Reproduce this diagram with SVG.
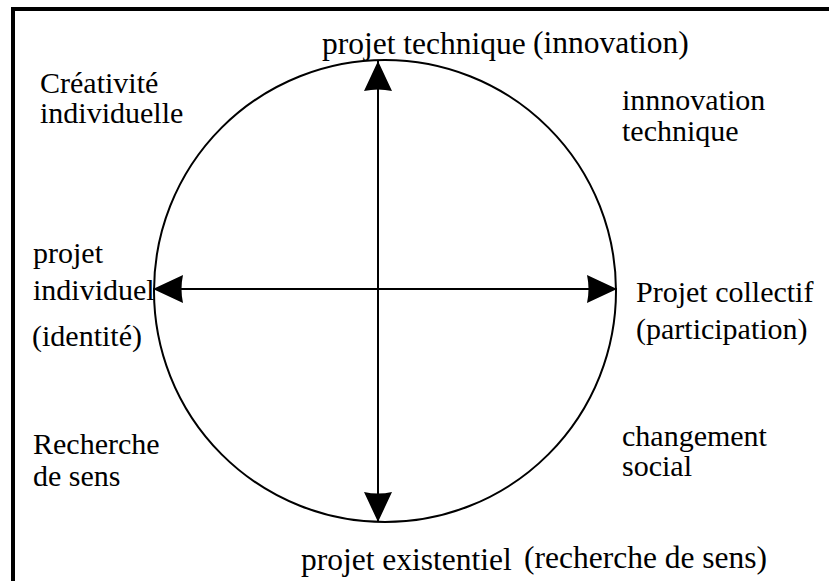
<svg xmlns="http://www.w3.org/2000/svg" width="829" height="581" viewBox="0 0 829 581">
<style>
.t{font-family:'Liberation Serif','Times New Roman',serif;font-size:30px;fill:#000}
.big{font-size:31.5px}
.ln{stroke:#000;stroke-width:2;fill:none}
</style>
<defs>
<marker id="ah" viewBox="0 0 30 28" refX="30" refY="14" markerWidth="30" markerHeight="28" markerUnits="userSpaceOnUse" orient="auto">
<path d="M0,0 L30,14 L0,28 Q3,14 0,0 Z" fill="#000"/>
</marker>
</defs>
<rect width="829" height="581" fill="#fff"/>
<path d="M13,581 V9 H829" stroke="#000" stroke-width="4" fill="none"/>
<g id="circle"><circle cx="385" cy="291" r="231" class="ln"/></g>
<g id="connectors">
<line x1="378" y1="291" x2="378" y2="61" class="ln" marker-end="url(#ah)"/>
<line x1="378" y1="291" x2="378" y2="522" class="ln" marker-end="url(#ah)"/>
<line x1="378" y1="289" x2="153" y2="289" class="ln" marker-end="url(#ah)"/>
<line x1="378" y1="289" x2="617" y2="289" class="ln" marker-end="url(#ah)"/>
</g>
<g id="top" class="t big"><text x="322" y="54">projet technique</text><text x="533" y="53">(innovation)</text></g>
<g id="topleft" class="t"><text x="40" y="93">Créativité</text><text x="40" y="123">individuelle</text></g>
<g id="topright" class="t"><text x="622" y="110">innnovation</text><text x="622" y="141">technique</text></g>
<g id="left" class="t"><text x="33" y="263">projet</text><text x="33" y="300">individuel</text><text x="32" y="346">(identité)</text></g>
<g id="right" class="t"><text x="636" y="302">Projet collectif</text><text x="636" y="339">(participation)</text></g>
<g id="bottomleft" class="t"><text x="33" y="454">Recherche</text><text x="33" y="486">de sens</text></g>
<g id="bottomright" class="t"><text x="622" y="446">changement</text><text x="622" y="476">social</text></g>
<g id="bottom" class="t big"><text x="301" y="570">projet existentiel</text><text x="524" y="568">(recherche de sens)</text></g>
</svg>
